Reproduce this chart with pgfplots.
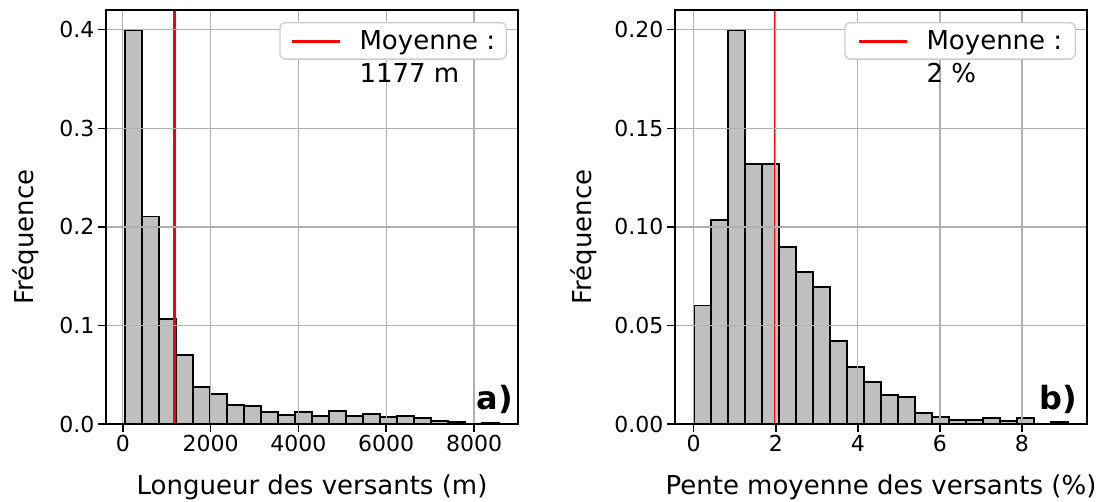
\documentclass[border=0pt]{standalone}
\usepackage{fontspec}
\setmainfont{DejaVu Sans}
\usepackage{pgfplots}
\pgfplotsset{compat=1.18}
\definecolor{barfill}{RGB}{191,191,191}
\definecolor{gridc}{RGB}{176,176,176}
\definecolor{legedge}{RGB}{204,204,204}
\pgfplotsset{
  myaxis/.style={
    scale only axis, width=412pt, height=414pt,
    axis on top,
    axis line style={line width=1.5pt, black},
    grid=major,
    major grid style={line width=1.3pt, gridc},
    tick align=outside,
    major tick length=8pt,
    tick style={line width=1.5pt, black},
    xtick pos=bottom, ytick pos=left,
    scaled ticks=false,
    tick label style={font=\fontsize{22}{26}\selectfont},
    label style={font=\fontsize{26}{31}\selectfont},
    /pgf/number format/assume math mode=true,
    ymin=0,
    xlabel style={at={(axis description cs:0.5,-0.1715)}, anchor=base},
    legend style={anchor=north east, draw=legedge, line width=1.3pt,
      rounded corners=5pt, fill=white, inner xsep=11pt, inner ysep=8pt,
      font=\fontsize{26}{33}\selectfont, column sep=18pt,
      nodes={inner sep=0pt}, cells={anchor=base west}},
    legend image code/.code={\draw[#1, line width=2.6pt] (0pt,8pt) -- (48pt,8pt);},
  },
  histbar/.style={ybar interval, fill=barfill, draw=black, line width=1.8pt, forget plot},
}
\begin{document}
\begin{tikzpicture}
\useasboundingbox (0,0) rectangle (1114pt,502pt);
\begin{axis}[myaxis, at={(106pt,78pt)}, anchor=south west,
  xmin=-381.5, xmax=9000.9, ymax=0.42,
  xtick={0,2000,4000,6000,8000},
  ytick={0,0.1,0.2,0.3,0.4},
  x tick label style={/pgf/number format/.cd, 1000 sep={}},
  y tick label style={/pgf/number format/.cd, fixed, fixed zerofill, precision=1},
  xlabel={Longueur des versants (m)},
  ylabel={Fréquence},
  ylabel style={at={(axis description cs:-0.177,0.452)}, anchor=base},
  legend style={at={(rel axis cs:0.973,0.971)}},
]
\addplot[histbar] coordinates {
(45,0.400) (432.7,0.2105) (820.4,0.1066) (1208.1,0.0704) (1595.8,0.0379)
(1983.5,0.0305) (2371.2,0.0196) (2758.9,0.0186) (3146.6,0.0118) (3534.3,0.0095)
(3922,0.0118) (4309.7,0.0085) (4697.4,0.0129) (5085.1,0.0078) (5472.8,0.0102)
(5860.5,0.0068) (6248.2,0.0078) (6635.9,0.0058) (7023.6,0.0034) (7411.3,0.0022)
(7799,0.0004) (8186.7,0.0015) (8574.4,0.0015)};
\addplot[red, line width=2.6pt] coordinates {(1177,0) (1177,0.42)};
\addlegendentry{\vtop{\hbox{Moyenne :}\hbox{1177 m}}}
\node[anchor=base east, inner sep=0pt, font=\fontsize{32}{36}\selectfont\bfseries] at (rel axis cs:0.9875,0.034) {a)};
\end{axis}
\begin{axis}[myaxis, at={(675pt,78pt)}, anchor=south west,
  xmin=-0.4565, xmax=9.5865, ymax=0.21,
  xtick={0,2,4,6,8},
  ytick={0,0.05,0.1,0.15,0.2},
  y tick label style={/pgf/number format/.cd, fixed, fixed zerofill, precision=2},
  xlabel={Pente moyenne des versants (\%)},
  ylabel={Fréquence},
  ylabel style={at={(axis description cs:-0.2034,0.452)}, anchor=base},
  legend style={at={(rel axis cs:0.973,0.971)}, inner xsep=13pt},
]
\addplot[histbar] coordinates {
(0,0.0601) (0.415,0.1036) (0.83,0.200) (1.245,0.132) (1.66,0.132)
(2.075,0.0897) (2.49,0.077) (2.905,0.0694) (3.32,0.042) (3.735,0.0288)
(4.15,0.0212) (4.565,0.0147) (4.98,0.0135) (5.395,0.0057) (5.81,0.0034)
(6.225,0.002) (6.64,0.002) (7.055,0.003) (7.47,0.0016) (7.885,0.003)
(8.3,0) (8.715,0.0012) (9.13,0.0012)};
\addplot[red, line width=2.6pt] coordinates {(1.98,0) (1.98,0.21)};
\addlegendentry{\vtop{\hbox{Moyenne :}\hbox{2 \%}}}
\node[anchor=base east, inner sep=0pt, font=\fontsize{32}{36}\selectfont\bfseries] at (rel axis cs:0.976,0.034) {b)};
\end{axis}
\end{tikzpicture}
\end{document}
